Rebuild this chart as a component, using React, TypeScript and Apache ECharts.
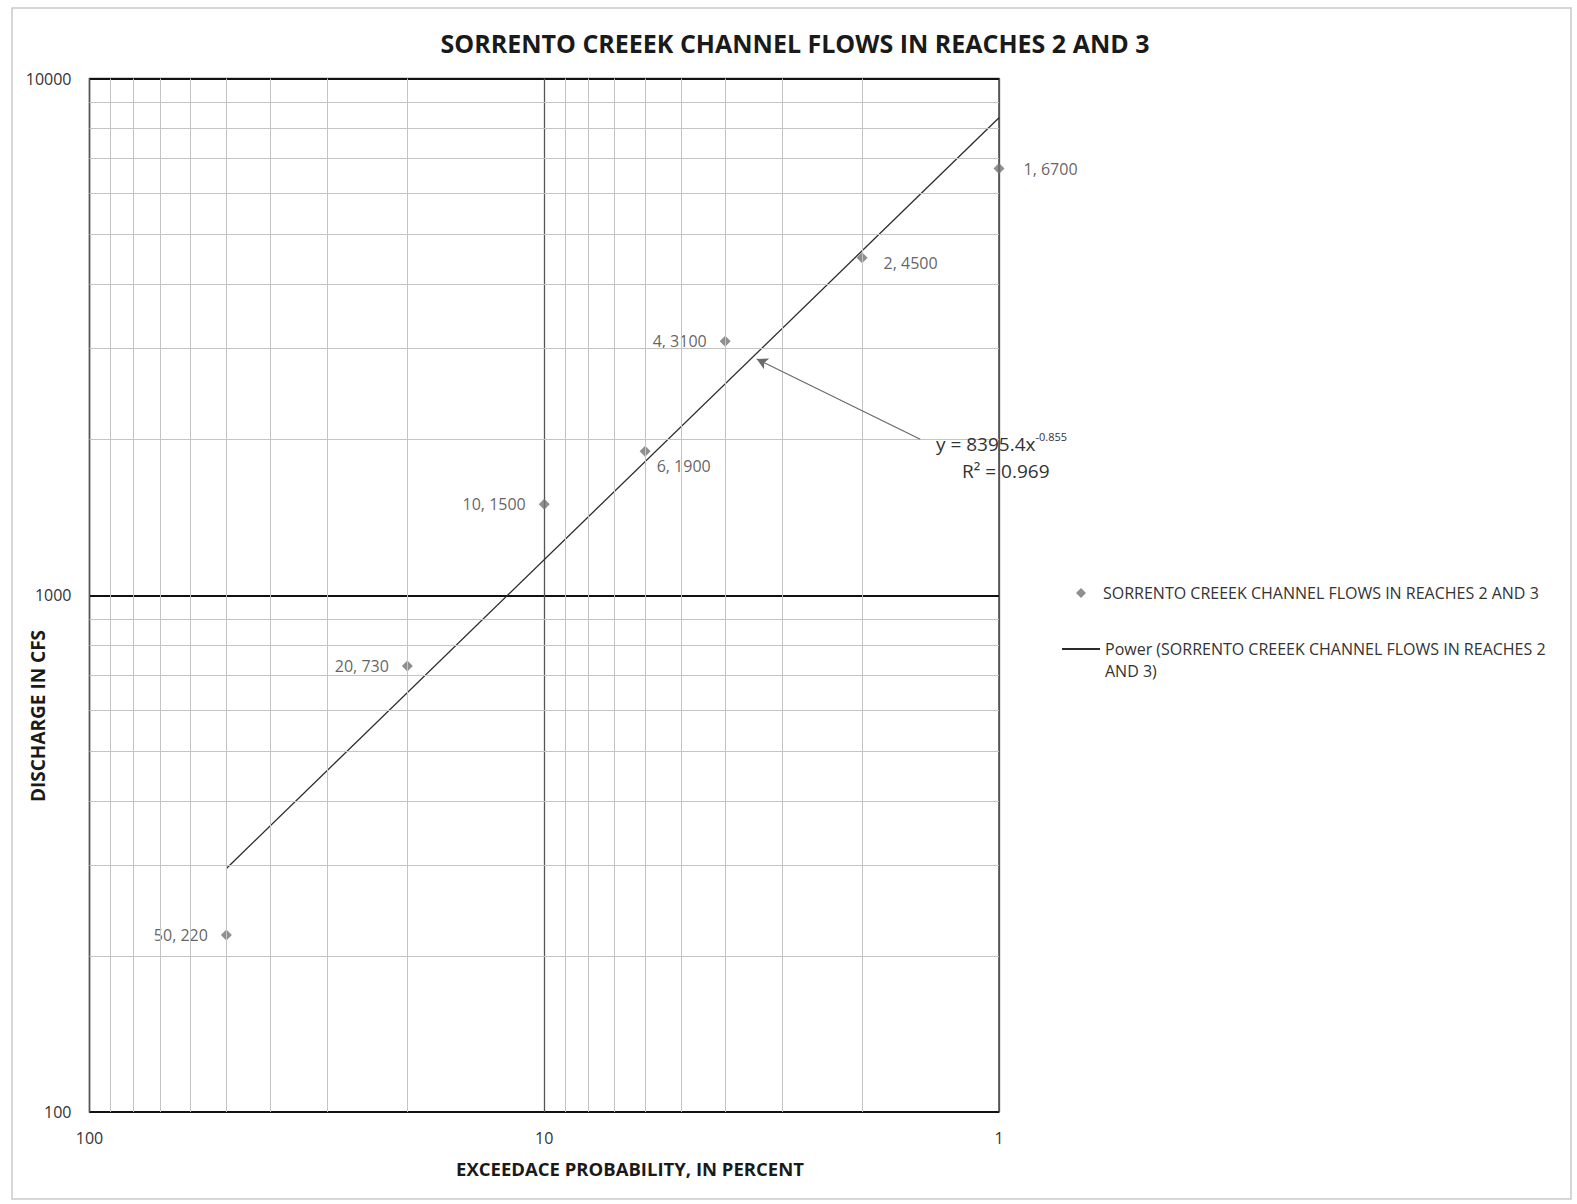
import React, { useEffect, useRef } from "react";
import * as echarts from "echarts";

const TITLE = "SORRENTO CREEEK CHANNEL FLOWS IN REACHES 2 AND 3";
const SERIES_NAME = "SORRENTO CREEEK CHANNEL FLOWS IN REACHES 2 AND 3";
const TREND_NAME = "Power (SORRENTO CREEEK CHANNEL FLOWS IN REACHES 2 AND 3)";
const X_NAME = "EXCEEDACE PROBABILITY, IN PERCENT";
const Y_NAME = "DISCHARGE IN CFS";

// data
const exceedance = [50, 20, 10, 6, 4, 2, 1];
const discharge = [220, 730, 1500, 1900, 3100, 4500, 6700];
// power trendline end points
const trendX = [50, 1];
const trendY = [296, 8395];
const EQUATION = "y = 8395.4x";
const EXPONENT = "-0.855";
const R2 = "R² = 0.969";
// arrow from equation to line (data units)
const arrowFrom = [1.49, 2004];
const arrowTo = [3.41, 2865];

// gridlines / ticks
const xMinorGrid = [2, 3, 4, 5, 6, 7, 8, 9, 20, 30, 40, 50, 60, 70, 80, 90];
const yMinorGrid = [200, 300, 400, 500, 600, 700, 800, 900, 2000, 3000, 4000, 5000, 6000, 7000, 8000, 9000];

// label placement styles per point
const labelPos = ["left", "left", "left", "right", "left", "right", "right"];
const labelOffset = [
  [-8, 0],
  [-8, 0],
  [-8, 0],
  [1, 15],
  [-8, 0],
  [11, 5],
  [14, 1],
];

const FONT = "'Open Sans', 'Noto Sans', sans-serif";

export default function App() {
  const ref = useRef<HTMLDivElement>(null);
  useEffect(() => {
    if (!ref.current) return;
    const chart = echarts.init(ref.current, null, { renderer: "svg" });
    const scatterData = exceedance.map((x, i) => ({
      value: [x, discharge[i]],
      label: {
        position: labelPos[i],
        offset: labelOffset[i],
      },
    }));
    const option: any = {
      animation: false,
      backgroundColor: "#ffffff",
      textStyle: { fontFamily: FONT },
      title: {
        text: TITLE,
        left: 790,
        top: 25,
        textAlign: "center",
        textStyle: { fontFamily: FONT, fontWeight: "bold", fontSize: 25, color: "#1a1a1a" },
      },
      grid: {
        left: 89.5,
        right: 578,
        top: 78.5,
        bottom: 92,
        show: true,
        borderColor: "#444",
        borderWidth: 1.5,
        containLabel: false,
      },
      legend: [
        {
          data: [SERIES_NAME],
          left: 1076,
          top: 582,
          padding: 0,
          itemWidth: 10,
          itemHeight: 10,
          selectedMode: false,
          textStyle: { fontFamily: FONT, fontSize: 16, color: "#333", padding: [0, 0, 0, 12], lineHeight: 22 },
        },
        {
          data: [TREND_NAME],
          left: 1061,
          top: 616,
          padding: 0,
          itemWidth: 38,
          itemHeight: 14,
          selectedMode: false,
          itemStyle: { color: "rgba(0,0,0,0)", borderColor: "rgba(0,0,0,0)", borderWidth: 0 },
          formatter: () => " \nPower (SORRENTO CREEEK CHANNEL FLOWS IN REACHES 2\nAND 3)",
          textStyle: { fontFamily: FONT, fontSize: 16, color: "#333", lineHeight: 22 },
        },
      ],
      xAxis: {
        type: "log",
        logBase: 10,
        min: 1,
        max: 100,
        inverse: true,
        axisLine: { show: false },
        axisTick: { show: false },
        axisLabel: {
          margin: 18,
          fontSize: 16,
          color: "#333",
          fontFamily: FONT,
          formatter: (v: number) => String(Math.round(v)),
        },
        splitLine: { show: true, lineStyle: { color: "#555", width: 1.3 } },
      },
      yAxis: {
        type: "log",
        logBase: 10,
        min: 100,
        max: 10000,
        axisLine: { show: false },
        axisTick: { show: false },
        axisLabel: {
          margin: 18,
          fontSize: 16,
          color: "#333",
          fontFamily: FONT,
          formatter: (v: number) => String(Math.round(v)),
        },
        splitLine: { show: true, lineStyle: { color: "#111", width: 2 } },
      },
      series: [
        {
          name: "grid",
          type: "line",
          data: [[1, 100]],
          symbol: "none",
          silent: true,
          z: 1,
          lineStyle: { width: 0 },
          markLine: {
            silent: true,
            symbol: "none",
            label: { show: false },
            lineStyle: { color: "#c4c4c4", width: 1, type: "solid" },
            data: [
              ...xMinorGrid.map((v) => ({ xAxis: v })),
              ...yMinorGrid.map((v) => ({ yAxis: v })),
            ],
          },
        },
        {
          name: TREND_NAME,
          type: "line",
          data: trendX.map((x, i) => [x, trendY[i]]),
          symbol: "none",
          z: 3,
          lineStyle: { color: "#2a2a2a", width: 1.3 },
          itemStyle: { color: "#2a2a2a" },
          markLine: {
            silent: true,
            symbol: ["none", "arrow"],
            symbolSize: [9, 11],
            label: { show: false },
            lineStyle: { color: "#6a6a6a", width: 1.3, type: "solid" },
            data: [[{ coord: arrowFrom }, { coord: arrowTo }]],
          },
        },
        {
          name: SERIES_NAME,
          type: "scatter",
          data: scatterData,
          symbol: "diamond",
          symbolSize: 11,
          z: 4,
          itemStyle: { color: "#737373" },
          label: {
            show: true,
            distance: 5,
            fontSize: 16,
            color: "#3a3a3a",
            fontFamily: FONT,
            formatter: (p: any) => `${p.value[0]}, ${p.value[1]}`,
          },
        },
      ],
      graphic: [
        {
          type: "rect",
          z: -10,
          silent: true,
          shape: { x: 12, y: 8, width: 1559, height: 1191 },
          style: { fill: "none", stroke: "#c9c9c9", lineWidth: 1.5 },
        },
        {
          type: "text",
          x: 936,
          y: 431,
          z: 10,
          style: {
            text: `{a|${EQUATION}}{b|${EXPONENT}}`,
            fontFamily: FONT,
            fill: "#333",
            rich: {
              a: { fontSize: 19, fontFamily: FONT, color: "#333", lineHeight: 22, verticalAlign: "bottom" },
              b: { fontSize: 11, fontFamily: FONT, color: "#333", lineHeight: 22, verticalAlign: "top", padding: [0, 0, 6, 0] },
            },
          },
        },
        {
          type: "text",
          x: 962,
          y: 461,
          z: 10,
          style: { text: R2, fontFamily: FONT, fontSize: 19, fill: "#333" },
        },
        {
          type: "text",
          x: 630,
          y: 1168,
          style: {
            text: X_NAME,
            fontFamily: FONT,
            fontSize: 18.5,
            fontWeight: "bold",
            fill: "#1a1a1a",
            align: "center",
            verticalAlign: "middle",
          },
        },
        {
          type: "text",
          x: 38,
          y: 716,
          rotation: Math.PI / 2,
          style: {
            text: Y_NAME,
            fontFamily: FONT,
            fontSize: 19,
            fontWeight: "bold",
            fill: "#1a1a1a",
            align: "center",
            verticalAlign: "middle",
          },
        },
      ],
    };
    chart.setOption(option);
    return () => chart.dispose();
  }, []);
  return (
    <div
      ref={ref}
      style={{ position: "absolute", left: 0, top: 0, width: 1577, height: 1204 }}
    />
  );
}
